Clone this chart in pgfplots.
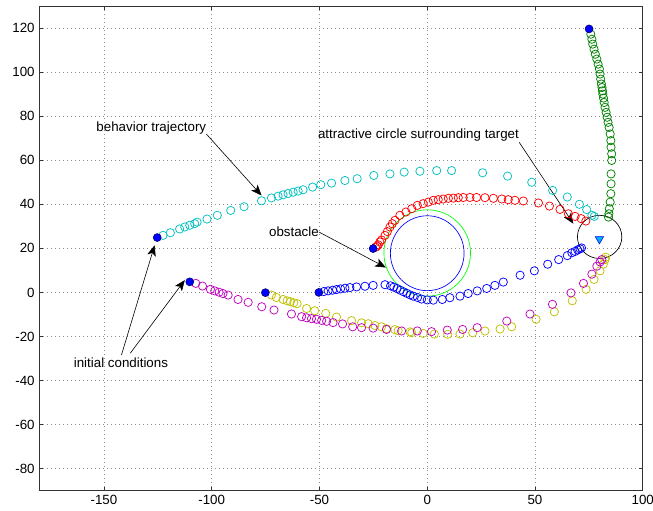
\documentclass[border=0pt]{standalone}
\usepackage{fontspec}
\setmainfont{Liberation Sans}
\usepackage{pgfplots}
\pgfplotsset{compat=1.18}
\usetikzlibrary{arrows.meta}
\definecolor{mcyan}{rgb}{0,0.75,0.75}
\definecolor{mgreen}{rgb}{0,0.5,0}
\definecolor{mmag}{rgb}{0.75,0,0.75}
\definecolor{myel}{rgb}{0.75,0.75,0}
\begin{document}
\begin{tikzpicture}
\begin{axis}[
  scale only axis, width=452.5pt, height=363.5pt,
  xmin=-180, xmax=100, ymin=-90, ymax=130,
  xtick={-150,-100,...,100}, ytick={-80,-60,...,120},
  tick align=inside, major tick length=3pt,
  /pgf/number format/assume math mode=true,
  ticklabel style={font=\fontsize{10}{12}\selectfont},
  grid=major, grid style={gray!90, dash pattern=on 0.6pt off 2.4pt, line width=0.55pt},
  axis line style={black!80, line width=0.6pt},
  tick style={black!80, line width=0.5pt},
  clip=false,
]
% obstacle circles and attractive circle
\draw[blue, line width=0.5pt] (axis cs:0,17.8) ellipse [x radius=17.1, y radius=17];
\draw[green, line width=0.5pt] (axis cs:0,17.9) ellipse [x radius=20.1, y radius=19.6];
\draw[black, line width=0.5pt] (axis cs:80,25.2) ellipse [x radius=10.3, y radius=9.8];

\pgfplotsset{every axis plot/.append style={only marks, mark=o, mark size=3.1pt, line width=0.55pt}}
% cyan
\addplot[mcyan] coordinates {(-122.6,25.9) (-119.2,27.1) (-114.9,28.8) (-112.5,29.7) (-110.2,30.5) (-107.9,31.2) (-106.8,31.9) (-102.2,33.3) (-97.4,35.0) (-91.2,37.2) (-85,38.9) (-76.9,41.6) (-72.3,42.9) (-69.2,43.7) (-66.9,44.3) (-64.6,44.9) (-62.2,45.5) (-59.9,46) (-57.6,46.6) (-53.2,47.8) (-49.4,48.9) (-44.4,49.6) (-38.2,50.8) (-32.5,51.6) (-24.8,53.1) (-17.3,53.8) (-10.7,54.6) (-3.4,55) (4.4,55.3) (11.3,55.3) (25.7,54.3) (37.3,52.8) (48.5,50) (58.2,46.3) (65,43.3) (70.6,40) (74,37.6) (76.4,35) (77.5,34.5)};
% red
\addplot[red] coordinates {(-24,20.5) (-23.3,21) (-22.7,21.6) (-22,22.9) (-21.2,23.8) (-19.6,25.9) (-18.5,27.6) (-17.3,29.7) (-16.2,31.2) (-15,32.7) (-12.7,35) (-9.9,36.5) (-7.2,38) (-4.6,39.5) (-1.9,40.3) (0.5,41) (2.8,41.8) (5.1,42.1) (7.4,42.4) (9.8,42.7) (12.1,42.8) (14.4,43) (16.7,43.1) (19.8,43.1) (22.9,43.1) (26.8,43) (30.7,42.7) (34.6,42.4) (37.6,42.1) (40.7,41.8) (44.6,41.5) (51.6,40.6) (56.7,39.2) (61.6,37.7) (65.5,35.7) (68.6,34.5) (71.4,33.5) (73.6,32.4)};
% green
\addplot[mgreen] coordinates {(75.9,117.2) (76.4,114.9) (76.8,112.7) (77.4,110.4) (78,108.1) (78.7,105.9) (79.3,103.6) (79.9,101.4) (80.2,99.1) (80.5,96.8) (80.8,94.6) (81.1,93) (81.3,91.5) (81.5,90) (81.8,88.2) (82.1,86.2) (82.5,84) (83,81.7) (83.5,79.5) (83.9,77.2) (84.4,74.9) (84.9,71.9) (85.2,68.9) (85.3,65.9) (85.6,62.9) (85.6,59.9) (85.3,53.8) (85.3,49.3) (85.2,44.8) (84.9,41) (84.5,38) (84.3,35.7) (84.1,34.2)};
% blue
\addplot[blue] coordinates {(-48,0.4) (-46,0.7) (-43.9,1) (-42.1,1.3) (-40.2,1.6) (-38.2,1.9) (-35.9,2.2) (-32.8,2.5) (-28.9,2.8) (-25.1,3.2) (-19.6,3.5) (-17,3.0) (-15.5,2.4) (-14,1.8) (-12.5,1.0) (-11,0.3) (-9.5,-0.4) (-8,-1.1) (-6.5,-1.7) (-4.5,-2.3) (-2.6,-3) (0,-3.4) (2.8,-3.5) (7,-3.2) (10.5,-2.4) (15.2,-1.7) (19,-0.5) (23.2,0.7) (27.6,1.8) (31.4,3.2) (35.3,4.7) (43.1,7.8) (49.7,9.8) (55.9,12.8) (61,14.9) (65,16.7) (67.1,18.0) (68.6,18.6) (69.8,19.3) (70.9,19.8) (71.6,20.2)};
% yellow
\addplot[myel] coordinates {(-72.3,-1.2) (-70,-2.3) (-66.9,-3.2) (-65,-3.8) (-63.5,-4.2) (-61.9,-4.7) (-60.4,-5.1) (-56,-7.3) (-52.2,-8.3) (-47.1,-9.5) (-42.1,-11.2) (-35.1,-12.8) (-30.5,-13.8) (-27.4,-14.2) (-24.3,-15) (-21.2,-15.6) (-18.9,-16.5) (-15,-16.9) (-13.5,-17.4) (-8,-17.9) (-7.2,-18.3) (-1.9,-18.6) (3.3,-18.9) (9.5,-19) (15.2,-18.9) (21.1,-18.3) (26.8,-17.5) (33.8,-16.6) (39.2,-15.6) (50.5,-12.2) (59,-8.8) (67.3,-3.8) (73.7,1.4) (77.4,5.9) (80.2,9.8) (81.7,12.8) (82.5,14.9) (82.8,16)};
% magenta
\addplot[mmag] coordinates {(-107.4,4.1) (-104.3,2.9) (-100.6,1.4) (-98.6,0.7) (-96.6,0.1) (-94.8,-0.5) (-92.4,-1.2) (-87.8,-3.2) (-83.1,-4.5) (-76.8,-6.5) (-71.1,-8) (-63,-9.8) (-58.3,-11) (-56,-11.5) (-53.7,-11.9) (-51.4,-12.2) (-49,-12.7) (-46.7,-13.1) (-43.7,-13.7) (-39.3,-14.3) (-34.6,-15.6) (-30.5,-16) (-25.1,-16.2) (-18.9,-16.8) (-11.9,-17.5) (-4.6,-17.5) (2,-17.8) (9.3,-17.1) (16.4,-16.8) (23.2,-16) (36.9,-13) (47.7,-9.8) (58.1,-5.4) (66.7,-0.2) (72.5,4.1) (76.4,8.3) (78.7,11.9) (80.2,13.8) (81,14.9)};
% initial conditions
\addplot[mark=*, mark size=3pt, draw=blue!40!black, fill=blue, line width=0.4pt] coordinates {(-125.3,24.9) (-25.1,19.9) (75.1,119.6) (-50.3,0) (-75.1,-0.1) (-110.2,4.8)};
% target
\addplot[mark=triangle*, mark size=3.6pt, mark options={rotate=180, fill=cyan, draw=blue}, line width=0.4pt] coordinates {(79.9,24.2)};

% annotations
\tikzset{ann/.style={font=\fontsize{10}{12}\selectfont, inner sep=0pt}, arr/.style={-{Stealth[length=8pt, width=6.5pt, inset=2pt]}, line width=0.45pt, black}}
\node[ann, anchor=west] at (axis cs:-153.6,74.6) {behavior trajectory};
\draw[arr] (axis cs:-102.5,71.9) -- (axis cs:-76.9,44.0);
\node[ann, anchor=west] at (axis cs:-164.1,-32.1) {initial conditions};
\draw[arr] (axis cs:-141.9,-28.4) -- (axis cs:-126.5,21.4);
\draw[arr] (axis cs:-137.8,-27.6) -- (axis cs:-112.5,5.6);
\node[ann, anchor=west] at (axis cs:-73.5,27.7) {obstacle};
\draw[arr] (axis cs:-50.2,27.4) -- (axis cs:-19.2,11.3);
\node[ann, anchor=west] at (axis cs:-50.8,71.6) {attractive circle surrounding target};
\draw[arr] (axis cs:42.7,68.1) -- (axis cs:67.8,31.2);
\end{axis}
\pgfresetboundingbox
\path ([shift={(-29.5pt,-15.2pt)}]current axis.south west) rectangle ([shift={(7.7pt,4.5pt)}]current axis.north east);
\end{tikzpicture}
\end{document}
